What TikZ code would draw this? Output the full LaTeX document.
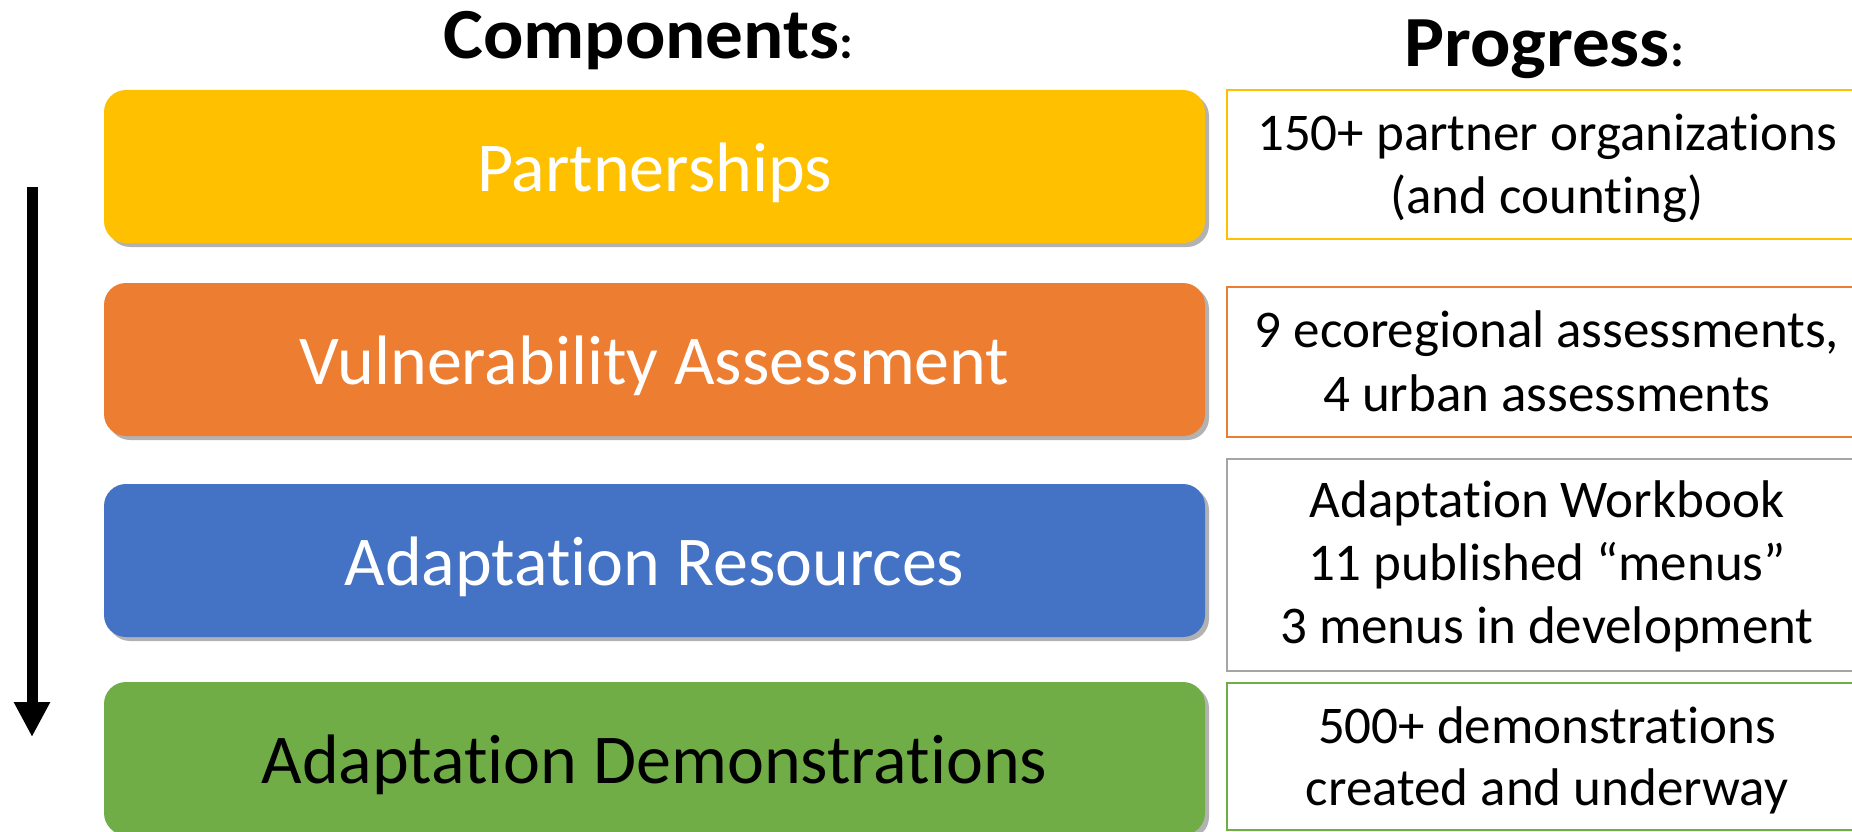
\documentclass[tikz,border=0pt]{standalone}
\usepackage{fontspec}
\usepackage{graphicx}
\setmainfont{Carlito}[RawFeature={-liga;-clig;-calt;-dlig}]
\newcommand{\nolig}{\kern0pt{}}
\usetikzlibrary{arrows.meta,shadows}
\definecolor{cyel}{HTML}{FFC000}
\definecolor{corg}{HTML}{ED7D31}
\definecolor{cblu}{HTML}{4472C4}
\definecolor{cgrn}{HTML}{70AD47}
\definecolor{cgry}{HTML}{A5A5A5}
\tikzset{
  compbox/.style={rectangle, rounded corners=22pt, minimum width=1101pt, minimum height=153pt,
    inner sep=0pt, text height=49pt, text depth=0pt,
    font=\fontsize{70}{84}\selectfont,
    drop shadow={shadow xshift=4pt, shadow yshift=-4pt, fill=black, opacity=0.3}},
  progbox/.style={rectangle, draw, line width=2pt, fill=white, inner sep=0pt},
  progline/.style={anchor=base, inner sep=0pt, font=\fontsize{53}{63}\selectfont},
  headtxt/.style={anchor=base west, inner sep=0pt},
}
\begin{document}
\begin{tikzpicture}[x=1pt,y=-1pt]
\useasboundingbox[fill=white] (0,0) rectangle (1852,832);

% titles
\node[headtxt] (hc) at (443,59) {\scalebox{1.045}[1]{\fontsize{72}{80}\selectfont\bfseries Components\fontsize{48}{56}\selectfont:}};
\node[headtxt] (hp) at (1404,67) {\scalebox{1.045}[1]{\fontsize{72}{80}\selectfont\bfseries Progress\fontsize{48}{56}\selectfont:}};

% component boxes
\node[compbox, fill=cyel, text=white] (c1) at (654.5,166.5) {Partnerships};
\node[compbox, fill=corg, text=white] (c2) at (654.5,359.5) {Vulnerability Assessment};
\node[compbox, fill=cblu, text=white] (c3) at (654.5,560.5) {Adaptat\nolig ion Resources};
\node[compbox, fill=cgrn, text=black] (c4) at (654.5,758.5) {Adaptat\nolig ion Demonstrat\nolig ions};

% progress boxes (extend past right edge)
\draw[progbox, draw=cyel] (1227,90) rectangle (1862,239);
\draw[progbox, draw=corg] (1227,287) rectangle (1862,437);
\draw[progbox, draw=cgry] (1227,459) rectangle (1862,671);
\draw[progbox, draw=cgrn] (1227,683) rectangle (1862,830);

\node[progline] (p1a) at (1547,150) {150+ partner organizat\nolig ions};
\node[progline] (p1b) at (1547,213) {(and count\nolig ing)};
\node[progline] (p2a) at (1547,347) {9 ecoregional assessments,};
\node[progline] (p2b) at (1547,411) {4 urban assessments};
\node[progline] (p3a) at (1547,517) {Adaptat\nolig ion Workbook};
\node[progline] (p3b) at (1547,580) {11 published “menus”};
\node[progline] (p3c) at (1547,643) {3 menus in development};
\node[progline] (p4a) at (1547,743) {500+ demonstrat\nolig ions};
\node[progline] (p4b) at (1547,805) {created and underway};

% arrow
\coordinate (a1) at (32,187);
\coordinate (a2) at (32,737);
\draw[line width=11pt, -{Triangle[width=34pt,length=35pt]}] (a1) -- (a2);
\end{tikzpicture}
\end{document}
